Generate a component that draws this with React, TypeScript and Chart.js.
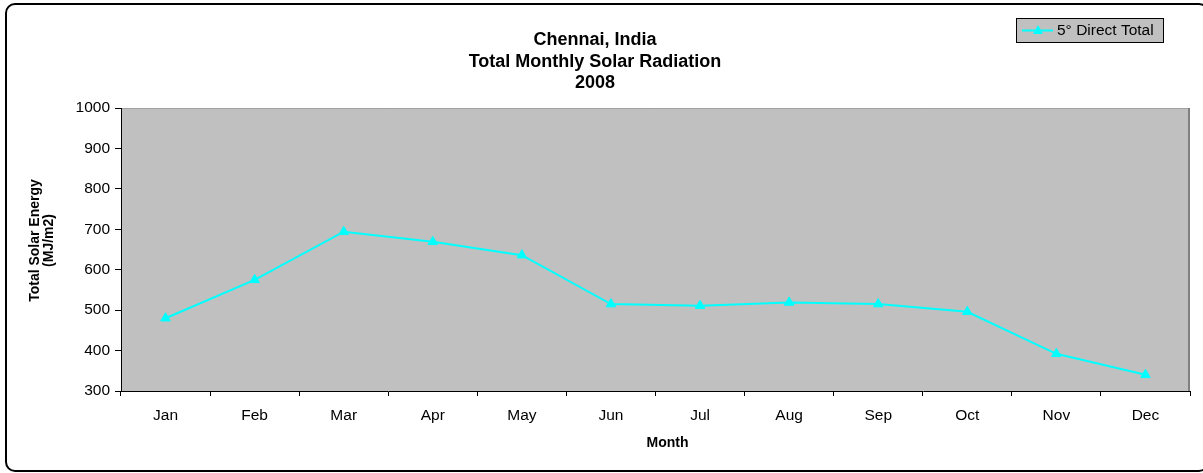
import React, { useEffect, useRef } from "react";
import { Chart, registerables } from "chart.js";

Chart.register(...registerables);

const months = ["Jan", "Feb", "Mar", "Apr", "May", "Jun", "Jul", "Aug", "Sep", "Oct", "Nov", "Dec"];
const directTotal = [480, 575, 694, 669, 636, 515, 511, 519, 515, 496, 392, 340];
const seriesLabel = "5° Direct Total";
const titleLines = ["Chennai, India", "Total Monthly Solar Radiation", "2008"];
const yTitleLines = ["Total Solar Energy", "(MJ/m2)"];
const xTitle = "Month";
const yMin = 300;
const yMax = 1000;
const yStep = 100;

const FONT = "'Liberation Sans', Arial, sans-serif";
const CYAN = "#00ffff";

const plotBg = {
  id: "plotBg",
  beforeDraw(chart: any) {
    const { ctx, chartArea } = chart;
    const { left, top, right, bottom } = chartArea;
    ctx.save();
    ctx.fillStyle = "#c0c0c0";
    ctx.fillRect(left, top, right - left, bottom - top);
    ctx.strokeStyle = "#a0a0a0";
    ctx.lineWidth = 1;
    ctx.beginPath();
    ctx.moveTo(left, top + 0.5);
    ctx.lineTo(right, top + 0.5);
    ctx.stroke();
    ctx.strokeStyle = "#808080";
    ctx.lineWidth = 2;
    ctx.beginPath();
    ctx.moveTo(right - 1, top);
    ctx.lineTo(right - 1, bottom);
    ctx.stroke();
    ctx.restore();
  },
};

const axisTitles = {
  id: "axisTitles",
  afterDraw(chart: any) {
    const { ctx, chartArea } = chart;
    ctx.save();
    ctx.fillStyle = "#000";
    ctx.font = `bold 14px ${FONT}`;
    ctx.textAlign = "center";
    ctx.textBaseline = "middle";
    const cy = (chartArea.top + chartArea.bottom) / 2 - 9;
    const xs = [35, 49];
    yTitleLines.forEach((line, i) => {
      ctx.save();
      ctx.translate(xs[i], cy);
      ctx.rotate(-Math.PI / 2);
      ctx.fillText(line, 0, 0);
      ctx.restore();
    });
    ctx.fillText(xTitle, (chartArea.left + chartArea.right) / 2 + 12, 443);
    ctx.restore();
  },
};

const customLegend = {
  id: "customLegend",
  afterDraw(chart: any) {
    const { ctx } = chart;
    const ds = chart.data.datasets[0];
    const x = 1016, y = 18, w = 147, h = 24;
    ctx.save();
    ctx.fillStyle = "#c0c0c0";
    ctx.fillRect(x, y, w, h);
    ctx.strokeStyle = "#000";
    ctx.lineWidth = 1;
    ctx.strokeRect(x + 0.5, y + 0.5, w, h);
    const cy = y + h / 2 + 0.5;
    ctx.strokeStyle = ds.borderColor;
    ctx.lineWidth = 2;
    ctx.beginPath();
    ctx.moveTo(x + 6, cy);
    ctx.lineTo(x + 37, cy);
    ctx.stroke();
    ctx.fillStyle = ds.backgroundColor;
    const mx = x + 22;
    ctx.beginPath();
    ctx.moveTo(mx, cy - 5.5);
    ctx.lineTo(mx + 5, cy + 3.5);
    ctx.lineTo(mx - 5, cy + 3.5);
    ctx.closePath();
    ctx.fill();
    ctx.fillStyle = "#000";
    ctx.font = `15.5px ${FONT}`;
    ctx.textBaseline = "middle";
    ctx.textAlign = "left";
    ctx.fillText(ds.label, x + 41, cy);
    ctx.restore();
  },
};

export default function App() {
  const ref = useRef<HTMLCanvasElement>(null);
  useEffect(() => {
    if (!ref.current) return;
    const chart = new Chart(ref.current, {
      type: "line",
      data: {
        labels: months,
        datasets: [
          {
            label: seriesLabel,
            data: directTotal,
            borderColor: CYAN,
            backgroundColor: CYAN,
            borderWidth: 2,
            pointStyle: "triangle",
            pointRadius: 5.5,
            pointBorderWidth: 1,
            pointBackgroundColor: CYAN,
            pointBorderColor: CYAN,
            tension: 0,
          },
        ],
      },
      options: {
        animation: false,
        responsive: false,
        maintainAspectRatio: false,
        layout: { padding: { left: 0, right: 13, top: 0, bottom: 0 } },
        plugins: {
          legend: { display: false },
          tooltip: { enabled: false },
          title: {
            display: true,
            text: titleLines,
            color: "#000",
            font: { family: FONT, size: 18, weight: "bold", lineHeight: 1.2 },
            padding: { top: 29.5, bottom: 13.7 },
          },
        },
        scales: {
          x: {
            type: "category",
            offset: true,
            grid: {
              offset: true,
              drawOnChartArea: false,
              drawTicks: true,
              tickLength: 5,
              color: "#000",
            },
            border: { display: true, color: "#000", width: 1 },
            ticks: { color: "#000", font: { family: FONT, size: 15.5 }, padding: 10, maxRotation: 0, autoSkip: false },
            title: { display: false },
            afterFit(scale: any) {
              scale.height = 82;
            },
          },
          y: {
            min: yMin,
            max: yMax,
            ticks: {
              stepSize: yStep,
              color: "#000",
              font: { family: FONT, size: 15.5 },
              padding: 5,
              callback: (v: any) => String(v),
            },
            grid: {
              drawOnChartArea: false,
              drawTicks: true,
              tickLength: 6,
              color: "#000",
            },
            border: { display: true, color: "#000", width: 1 },
            title: { display: false },
            afterFit(scale: any) {
              scale.width = 121;
            },
          },
        },
      },
      plugins: [plotBg, axisTitles, customLegend],
    });
    return () => chart.destroy();
  }, []);

  return (
    <div style={{ position: "fixed", left: 0, top: 0, width: 1203, height: 473, background: "#fff" }}>
      <canvas ref={ref} width={1203} height={473} style={{ position: "absolute", left: 0, top: 0, width: 1203, height: 473 }} />
      <div
        style={{
          position: "absolute",
          left: 5,
          top: 3,
          width: 1200,
          height: 465,
          border: "2px solid #000",
          borderRadius: 10,
          pointerEvents: "none",
        }}
      />
    </div>
  );
}
